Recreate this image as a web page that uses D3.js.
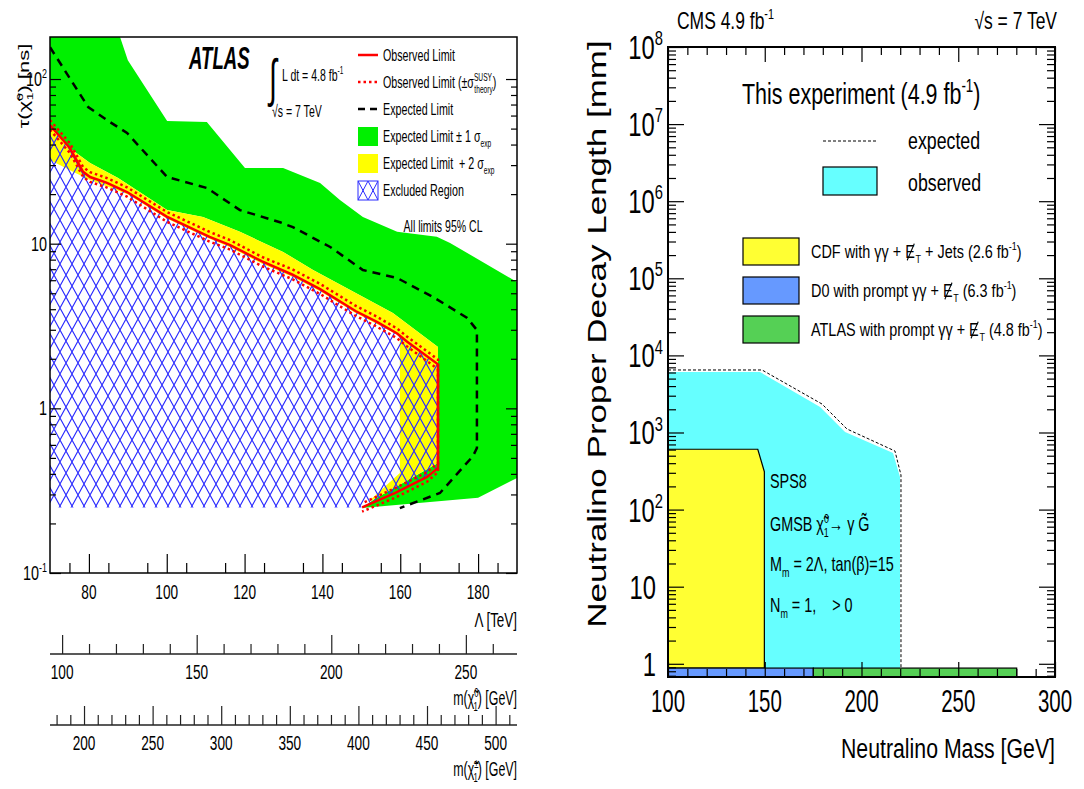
<!DOCTYPE html>
<html>
<head>
<meta charset="utf-8">
<title>GMSB neutralino lifetime limits</title>
<script src="https://d3js.org/d3.v7.min.js"></script>
<style>
  body { margin: 0; background: #fff; }
  svg { display: block; font-family: "Liberation Sans", Arial, sans-serif; }
  text { white-space: pre; }
</style>
</head>
<body>
<svg id="chart" width="1084" height="789"></svg>
<script>
// ---------------- left panel (ATLAS): Lambda [TeV] vs tau [ns]
const atlasLambdaTicks = [80, 100, 120, 140, 160, 180];
const atlasTauTicks = [0.1, 1, 10, 100];
const atlasTauLabels = [["10", "-1"], ["1", ""], ["10", ""], ["10", "2"]];
const neutralinoMassTicks = [100, 150, 200, 250];
const charginoMassTicks = [200, 250, 300, 350, 400, 450, 500];

// +-1 sigma expected band (outer edge, then inner edge back)
const bandOneSigma = [[70, 180], [88, 180], [90, 130], [100.1, 55.6], [110.3, 54.8], [120.1, 28.8],
  [129.9, 28.8], [139.4, 23.4], [144.5, 18.4], [150.4, 14.5], [159.2, 11.8], [169.4, 11.0],
  [172.8, 10.1], [190, 5.85], [190, 0.378], [180, 0.286], [150.2, 0.248], [153.5, 0.282],
  [169.7, 0.466], [169.7, 2.36], [158.1, 3.80], [137.6, 6.92], [129.9, 8.91], [118.8, 11.8],
  [109.3, 14.5], [100.1, 16.0], [87.5, 25.1], [80.3, 30.9], [75.1, 38], [70, 52]];
// +2 sigma band
const bandTwoSigma = [[70, 52], [75.1, 38], [80.3, 30.9], [87.5, 25.1], [100.1, 16.0], [109.3, 14.5],
  [118.8, 11.8], [129.9, 8.91], [137.6, 6.92], [158.1, 3.80], [169.7, 2.36], [169.7, 0.466],
  [153.5, 0.282], [151.7, 0.27], [159.9, 0.405], [159.9, 2.75], [154, 3.25], [148.5, 3.8],
  [139.4, 5.15], [132.2, 6.3], [124.5, 7.55], [116.3, 9.5], [111, 10.7], [100, 14.2],
  [89.8, 20.0], [80.3, 24.4], [75.9, 27.3], [70, 32.2]];
const expectedLimit = [[70, 156], [79.8, 67.6], [84.6, 56.4], [89.8, 47.0], [100.1, 25.4],
  [110.3, 21.8], [118.8, 16.0], [129.1, 13.5], [132.4, 12.6], [142.0, 9.55], [150.4, 6.92],
  [159.2, 6.19], [168.4, 4.75], [177.2, 3.54], [179.7, 2.99], [179.7, 0.575], [178.7, 0.513],
  [170.2, 0.306], [159.9, 0.248]];
const observedLimit = [[70, 52.6], [75.1, 38.1], [78.5, 27.3], [80.3, 25.4], [84.5, 23.5],
  [89.8, 20.6], [100, 14.6], [111, 11.0], [116.3, 9.8], [124.5, 7.8], [132.2, 6.5], [139.4, 5.3],
  [148.5, 3.9], [154, 3.35], [159.2, 2.85], [161.7, 2.55], [169.7, 1.85], [169.7, 0.435],
  [166.9, 0.383], [158.6, 0.306], [150.2, 0.25]];
const observedTheoryUp = [[70, 56.3], [75.1, 40.8], [78.5, 29.2], [80.3, 27.2], [84.5, 25.1],
  [89.8, 22.0], [100, 15.6], [111, 11.8], [116.3, 10.5], [124.5, 8.3], [132.2, 7.0], [139.4, 5.7],
  [148.5, 4.2], [154, 3.6], [159.2, 3.05], [161.7, 2.73], [169.7, 1.98], [169.7, 0.41],
  [166.9, 0.358], [158.6, 0.286], [150.2, 0.236]];
const observedTheoryDown = [[70, 49.2], [75.1, 35.6], [78.5, 25.5], [80.3, 23.7], [84.5, 22.0],
  [89.8, 19.3], [100, 13.6], [111, 10.3], [116.3, 9.2], [124.5, 7.3], [132.2, 6.1], [139.4, 4.95],
  [148.5, 3.65], [154, 3.13], [159.2, 2.66], [161.7, 2.38], [169.7, 1.73], [169.7, 0.465],
  [166.9, 0.41], [158.6, 0.327], [150.2, 0.265]];
const excludedCorner = [[70, 0.25]];

// ---------------- right panel (CMS): neutralino mass vs proper decay length
const cmsMassTicks = [100, 150, 200, 250, 300];
const cmsDecayTicks = [1, 10, 100, 1e3, 1e4, 1e5, 1e6, 1e7, 1e8];
const cmsDecayLabels = [["1", ""], ["10", ""], ["10", "2"], ["10", "3"], ["10", "4"], ["10", "5"],
  ["10", "6"], ["10", "7"], ["10", "8"]];
const cmsObserved = [[100, 6100], [147.5, 6100], [178.6, 2140], [191.5, 1014], [216.3, 542],
  [219.9, 265], [219.9, 0.674], [100, 0.674]];
const cmsExpected = [[100, 6470], [148.6, 6470], [179.6, 2340], [192.5, 1110], [217.3, 575],
  [220.4, 281], [220.4, 0.88]];
const cdfRegion = [[100, 606], [146.4, 606], [149.8, 310], [149.8, 0.88], [100, 0.88]];
const d0Range = [100, 175.1];
const atlasPromptRange = [175.1, 280.2];
const promptBand = [0.674, 0.88];

const svg = d3.select("#chart");

// text with sub/superscripts, squeezed horizontally like the original picture.
// a segment marked "slash" gets a stroke drawn through it (missing-ET symbol)
function rich(parent, x, y, segs, o) {
  o = o || {};
  const size = o.size || 14, sx = o.sx || 0.7;
  let tr = `translate(${x},${y}) scale(${sx},1)`;
  if (o.rotate) tr += ` rotate(${o.rotate})`;
  const t = parent.append("text").attr("transform", tr)
    .attr("font-size", size).attr("text-anchor", o.anchor || "start")
    .attr("fill", o.color || "#000");
  if (o.weight) t.attr("font-weight", o.weight);
  if (o.italic) t.attr("font-style", "italic");
  if (typeof segs === "string") segs = [[segs]];
  let cur = 0;
  const slashes = [];
  let idx = 0;
  segs.forEach(s => {
    const kind = s[1];
    const off = kind === "sup" ? -0.42 * size : kind === "sub" ? 0.28 * size : 0;
    const fs = kind ? 0.62 * size : size;
    const sp = t.append("tspan").attr("font-size", fs).attr("dy", off - cur).text(s[0]);
    if (s[2]) sp.attr("dx", s[2]);
    if (s[3] === "slash") slashes.push(idx);
    idx += s[0].length;
    cur = off;
  });
  if (slashes.length) {
    const g = parent.append("g").attr("transform", tr);
    slashes.forEach(i => {
      const b = t.node().getExtentOfChar(i);
      g.append("line")
        .attr("x1", b.x + b.width * 0.95).attr("y1", b.y + b.height * 0.12)
        .attr("x2", b.x + b.width * 0.2).attr("y2", b.y + b.height * 0.9)
        .attr("stroke", o.color || "#000").attr("stroke-width", 1.3);
    });
  }
  return t;
}

function tickAxis(parent, axisFn, scale, values, len, transform, color) {
  const a = axisFn(scale).tickValues(values).tickSize(len).tickFormat("");
  const sel = parent.append("g").attr("transform", transform).call(a);
  sel.select(".domain").remove();
  sel.selectAll("line").attr("stroke", color || "#000").attr("stroke-width", 1.2);
  return sel;
}

function logMinors(lo, hi) {
  const out = [];
  for (let e = Math.floor(Math.log10(lo)); e <= Math.ceil(Math.log10(hi)); e++) {
    for (let k = 2; k <= 9; k++) {
      const v = k * Math.pow(10, e);
      if (v >= lo && v <= hi) out.push(v);
    }
  }
  return out;
}

const defs = svg.append("defs");
const pat = defs.append("pattern").attr("id", "hatch").attr("patternUnits", "userSpaceOnUse")
  .attr("width", 12).attr("height", 22);
pat.append("path").attr("d", "M-6,-11L18,33M18,-11L-6,33")
  .attr("stroke", "#2a2aff").attr("stroke-width", 1.1).attr("fill", "none");
const hatchBox = defs.append("pattern").attr("id", "hatchSmall").attr("patternUnits", "userSpaceOnUse")
  .attr("width", 10).attr("height", 19).attr("x", 358).attr("y", 181);
hatchBox.append("path").attr("d", "M-5,-9.5L15,28.5M15,-9.5L-5,28.5")
  .attr("stroke", "#2a2aff").attr("stroke-width", 1).attr("fill", "none");

// ================= LEFT PANEL =================
const xL = d3.scaleLinear().domain([70, 190]).range([50, 517]);
const yL = d3.scaleLog().domain([0.1, 180]).range([573, 37]);
const xN = d3.scaleLinear().domain([95.5, 269]).range([50, 517]);
const xC = d3.scaleLinear().domain([175.2, 515.6]).range([50, 517]);
const lineL = d3.line().x(d => xL(d[0])).y(d => yL(d[1]));

defs.append("clipPath").attr("id", "clipL").append("rect")
  .attr("x", 50).attr("y", 37).attr("width", 467).attr("height", 536);
const left = svg.append("g");
const plotL = left.append("g").attr("clip-path", "url(#clipL)");

plotL.append("path").attr("d", lineL(bandOneSigma) + "Z").attr("fill", "#00f000");
plotL.append("path").attr("d", lineL(bandTwoSigma) + "Z").attr("fill", "#ffff00");
plotL.append("path").attr("d", lineL(observedLimit.concat(excludedCorner)) + "Z").attr("fill", "url(#hatch)");
plotL.append("path").attr("d", lineL(expectedLimit)).attr("fill", "none")
  .attr("stroke", "#000").attr("stroke-width", 2.5).attr("stroke-dasharray", "8,6");
[observedTheoryUp, observedTheoryDown].forEach(s => {
  plotL.append("path").attr("d", lineL(s)).attr("fill", "none")
    .attr("stroke", "#ff0000").attr("stroke-width", 2.5).attr("stroke-dasharray", "2.5,3");
});
plotL.append("path").attr("d", lineL(observedLimit)).attr("fill", "none")
  .attr("stroke", "#ff0000").attr("stroke-width", 2.5);

left.append("rect").attr("x", 50).attr("y", 37).attr("width", 467).attr("height", 536)
  .attr("fill", "none").attr("stroke", "#000").attr("stroke-width", 1.5);

// ticks
const tauMinor = logMinors(0.1, 180);
tickAxis(left, d3.axisRight, yL, atlasTauTicks, 11, "translate(50,0)");
tickAxis(left, d3.axisRight, yL, tauMinor, 6, "translate(50,0)");
tickAxis(left, d3.axisLeft, yL, atlasTauTicks, 11, "translate(517,0)");
tickAxis(left, d3.axisLeft, yL, tauMinor, 6, "translate(517,0)");
tickAxis(left, d3.axisTop, xL, atlasLambdaTicks, 19, "translate(0,573)");
tickAxis(left, d3.axisTop, xL, d3.range(75, 190, 10), 10, "translate(0,573)");

atlasLambdaTicks.forEach(v => rich(left, xL(v), 599, String(v), { size: 21, sx: 0.65, anchor: "middle" }));
atlasTauTicks.forEach((v, i) => {
  const lab = atlasTauLabels[i];
  rich(left, 47, yL(v) + 7, lab[1] ? [[lab[0]], [lab[1], "sup"]] : [[lab[0]]],
    { size: 20, sx: 0.72, anchor: "end" });
});
rich(left, 517, 627, "Λ [TeV]", { size: 21, sx: 0.64, anchor: "end" });
rich(left, 29, 86, [["τ(χ̃"], ["0", "sup"], ["1", "sub", -7], [") [ns]"]], { size: 22, sx: 0.65, rotate: -90, anchor: "middle" });

// secondary mass axes
[[xN, neutralinoMassTicks, 654, 679, 95.5, 269, [["m(χ̃"], ["0", "sup"], ["1", "sub", -8], [") [GeV]"]], 705],
 [xC, charginoMassTicks, 725, 750, 175.2, 515.6, [["m(χ̃"], ["±", "sup"], ["1", "sub", -8], [") [GeV]"]], 776]]
  .forEach(([sc, tv, ay, ly, lo, hi, title, ty]) => {
    left.append("line").attr("x1", 50).attr("x2", 517).attr("y1", ay).attr("y2", ay)
      .attr("stroke", "#222").attr("stroke-width", 1.4);
    tickAxis(left, d3.axisTop, sc, tv, 19, `translate(0,${ay})`, "#222");
    tickAxis(left, d3.axisTop, sc, d3.range(Math.ceil(lo / 10) * 10, hi, 10).filter(v => v % 50), 10, `translate(0,${ay})`, "#222");
    tv.forEach(v => rich(left, sc(v), ly, String(v), { size: 21, sx: 0.65, anchor: "middle" }));
    rich(left, 517, ty, title, { size: 20, sx: 0.62, anchor: "end" });
  });

// annotations and legend
rich(left, 189, 69, "ATLAS", { size: 31, sx: 0.6, weight: "bold", italic: true });
rich(left, 269, 96, "∫", { size: 52, sx: 0.55 });
rich(left, 282, 81, [["L dt = 4.8 fb"], ["-1", "sup"]], { size: 17, sx: 0.62 });
rich(left, 272, 117, "√s = 7 TeV", { size: 17, sx: 0.62 });

const atlasLegend = [
  { kind: "line", dash: null, color: "#ff0000", label: [["Observed Limit"]] },
  { kind: "line", dash: "2.5,3", color: "#ff0000", label: [["Observed Limit (±σ"], ["SUSY", "sup"], ["theory", "sub", -28], [")"]] },
  { kind: "line", dash: "7,5", color: "#000", label: [["Expected Limit"]] },
  { kind: "box", fill: "#00f000", label: [["Expected Limit ± 1 σ"], ["exp", "sub"]] },
  { kind: "box", fill: "#ffff00", label: [["Expected Limit  + 2 σ"], ["exp", "sub"]] },
  { kind: "hatch", label: [["Excluded Region"]] }
];
atlasLegend.forEach((d, i) => {
  const cy = 55 + i * 27;
  if (d.kind === "line") {
    left.append("line").attr("x1", 358).attr("x2", 378).attr("y1", cy).attr("y2", cy)
      .attr("stroke", d.color).attr("stroke-width", 2.5).attr("stroke-dasharray", d.dash);
  } else if (d.kind === "box") {
    left.append("rect").attr("x", 358).attr("y", cy - 9).attr("width", 20).attr("height", 19).attr("fill", d.fill);
  } else {
    left.append("rect").attr("x", 358).attr("y", cy - 9).attr("width", 20).attr("height", 19)
      .attr("fill", "url(#hatchSmall)").attr("stroke", "#2a2aff").attr("stroke-width", 1);
  }
  rich(left, 383, cy + 6, d.label, { size: 17, sx: 0.63 });
});
rich(left, 443, 232, "All limits 95% CL", { size: 17, sx: 0.62, anchor: "middle" });

// ================= RIGHT PANEL =================
const xR = d3.scaleLinear().domain([100, 300]).range([668, 1055]);
const yR = d3.scaleLog().domain([0.674, 1e8]).range([677, 47]);
const lineR = d3.line().x(d => xR(d[0])).y(d => yR(d[1]));
defs.append("clipPath").attr("id", "clipR").append("rect")
  .attr("x", 668).attr("y", 47).attr("width", 387).attr("height", 630);
const right = svg.append("g");
const plotR = right.append("g").attr("clip-path", "url(#clipR)");

plotR.append("path").attr("d", lineR(cmsObserved) + "Z").attr("fill", "#66ffff");
plotR.append("path").attr("d", lineR(cmsExpected)).attr("fill", "none")
  .attr("stroke", "#000").attr("stroke-width", 1).attr("stroke-dasharray", "3,2");
plotR.append("path").attr("d", lineR(cdfRegion) + "Z").attr("fill", "#ffff33")
  .attr("stroke", "#000").attr("stroke-width", 1.2);
[[d0Range, "#6699ff"], [atlasPromptRange, "#55d055"]].forEach(([r, c]) => {
  plotR.append("rect").attr("x", xR(r[0])).attr("width", xR(r[1]) - xR(r[0]))
    .attr("y", yR(promptBand[1])).attr("height", yR(promptBand[0]) - yR(promptBand[1]))
    .attr("fill", c).attr("stroke", "#000").attr("stroke-width", 1.2);
});

right.append("rect").attr("x", 668).attr("y", 47).attr("width", 387).attr("height", 630)
  .attr("fill", "none").attr("stroke", "#000").attr("stroke-width", 2);

const decayMinor = logMinors(0.674, 1e8);
const massMinor = d3.range(110, 300, 10).filter(v => v % 50);
tickAxis(right, d3.axisRight, yR, cmsDecayTicks, 16, "translate(668,0)");
tickAxis(right, d3.axisRight, yR, decayMinor, 8, "translate(668,0)");
tickAxis(right, d3.axisLeft, yR, cmsDecayTicks, 16, "translate(1055,0)");
tickAxis(right, d3.axisLeft, yR, decayMinor, 8, "translate(1055,0)");
tickAxis(right, d3.axisTop, xR, cmsMassTicks, 15, "translate(0,677)");
tickAxis(right, d3.axisTop, xR, massMinor, 8, "translate(0,677)");
tickAxis(right, d3.axisBottom, xR, cmsMassTicks, 15, "translate(0,47)");
tickAxis(right, d3.axisBottom, xR, massMinor, 8, "translate(0,47)");

cmsMassTicks.forEach(v => rich(right, xR(v), 712, String(v), { size: 31, sx: 0.66, anchor: "middle" }));
cmsDecayTicks.forEach((v, i) => {
  const lab = cmsDecayLabels[i];
  rich(right, lab[1] ? 663 : 656, yR(v) + 12, lab[1] ? [[lab[0]], [lab[1], "sup"]] : [[lab[0]]],
    { size: 33, sx: 0.72, anchor: "end" });
});
rich(right, 1055, 758, "Neutralino Mass [GeV]", { size: 28, sx: 0.76, anchor: "end" });
rich(right, 606, 334, "Neutralino Proper Decay Length [mm]", { size: 35, sx: 0.76, rotate: -90, anchor: "middle" });
rich(right, 677, 29, [["CMS 4.9 fb"], ["-1", "sup"]], { size: 23, sx: 0.76 });
rich(right, 1057, 29, "√s = 7 TeV", { size: 23, sx: 0.76, anchor: "end" });

rich(right, 742, 104, [["This experiment (4.9 fb"], ["-1", "sup"], [")"]], { size: 29, sx: 0.74 });
right.append("line").attr("x1", 823).attr("x2", 877).attr("y1", 141).attr("y2", 141)
  .attr("stroke", "#000").attr("stroke-width", 1).attr("stroke-dasharray", "3,2");
rich(right, 908, 149, "expected", { size: 24, sx: 0.74 });
right.append("rect").attr("x", 823).attr("y", 167).attr("width", 54).attr("height", 28)
  .attr("fill", "#66ffff").attr("stroke", "#000").attr("stroke-width", 1.2);
rich(right, 908, 191, "observed", { size: 24, sx: 0.74 });

const metT = [["E", null, 0, "slash"], ["T", "sub", 1]];
const cmsLegend = [
  { fill: "#ffff33", label: [["CDF with γγ + "]].concat(metT, [[" + Jets (2.6 fb"], ["-1", "sup"], [")"]]) },
  { fill: "#6699ff", label: [["D0 with prompt γγ + "]].concat(metT, [[" (6.3 fb"], ["-1", "sup"], [")"]]) },
  { fill: "#55d055", label: [["ATLAS with prompt γγ + "]].concat(metT, [[" (4.8 fb"], ["-1", "sup"], [")"]]) }
];
cmsLegend.forEach((d, i) => {
  const top = 238 + i * 39;
  right.append("rect").attr("x", 743).attr("y", top).attr("width", 56).attr("height", 27)
    .attr("fill", d.fill).attr("stroke", "#000").attr("stroke-width", 1.2);
  rich(right, 811, top + 20, d.label, { size: 19, sx: 0.76 });
});

rich(right, 770, 488, "SPS8", { size: 20, sx: 0.72 });
rich(right, 770, 531, [["GMSB χ̃"], ["0", "sup"], ["1", "sub", -7], ["→ γ G̃"]], { size: 20, sx: 0.72 });
rich(right, 770, 571, [["M"], ["m", "sub"], [" = 2Λ, tan(β)=15"]], { size: 20, sx: 0.72 });
rich(right, 770, 612, [["N"], ["m", "sub"], [" = 1,    > 0"]], { size: 20, sx: 0.72 });
</script>
</body>
</html>
